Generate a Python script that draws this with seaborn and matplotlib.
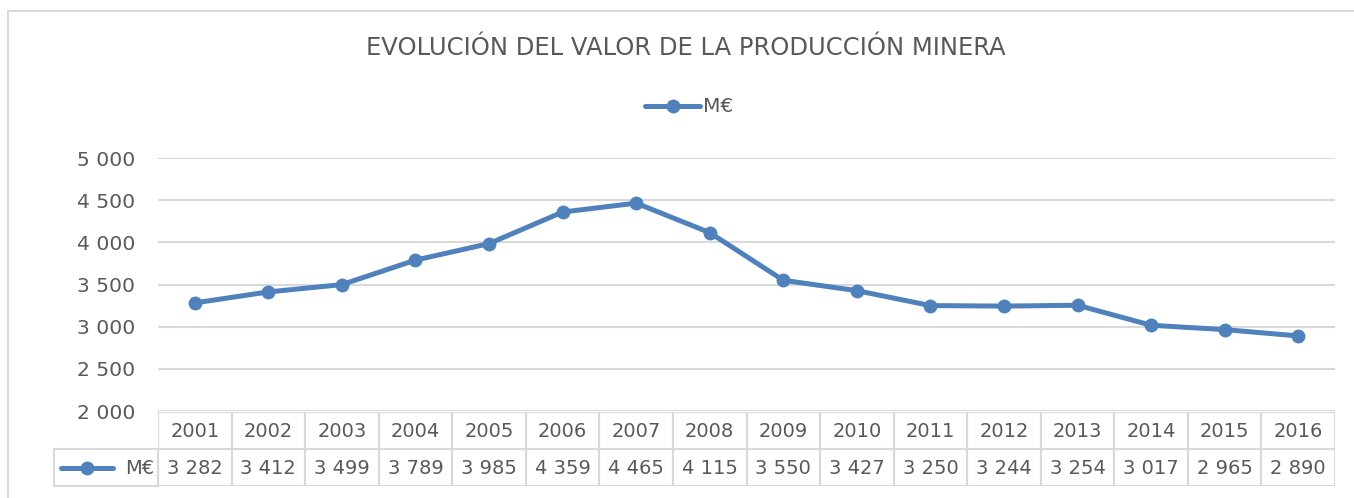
import matplotlib
matplotlib.use("Agg")
import matplotlib.pyplot as plt
from matplotlib.patches import Rectangle
from matplotlib.lines import Line2D
import seaborn as sns
import pandas as pd

years = ["2001", "2002", "2003", "2004", "2005", "2006", "2007", "2008",
         "2009", "2010", "2011", "2012", "2013", "2014", "2015", "2016"]
values = [3282, 3412, 3499, 3789, 3985, 4359, 4465, 4115,
          3550, 3427, 3250, 3244, 3254, 3017, 2965, 2890]
series_name = "M€"
title = "EVOLUCIÓN DEL VALOR DE LA PRODUCCIÓN MINERA"
yticks = [2000, 2500, 3000, 3500, 4000, 4500, 5000]

W, H = 1354, 498
BLUE = "#4f81bd"
GRID = "#d9d9d9"
TXT = "#595959"
FS = 14.6
FST = 14.0

sns.set_style("white")
plt.rcParams["font.family"] = ["DejaVu Sans"]

fig = plt.figure(figsize=(W / 100, H / 100), dpi=100)

def fx(px):
    return px / W

def fy(py):
    return 1 - py / H

# outer chart border
fig.patches.append(Rectangle((fx(8), fy(H + 5)), fx(W + 10) - fx(8), fy(11) - fy(H + 5),
                             transform=fig.transFigure, fill=False, edgecolor=GRID, lw=1.5))

L, R, T, B = 158, 1335, 158, 411
ax = fig.add_axes([fx(L), fy(B), fx(R) - fx(L), fy(T) - fy(B)])
df = pd.DataFrame({"x": list(range(len(years))), "y": values})
sns.lineplot(data=df, x="x", y="y", ax=ax, color=BLUE, lw=3.6, marker="o",
             markersize=10, markeredgewidth=0, zorder=3)
ax.set_xlim(-0.5, len(years) - 0.5)
ax.set_ylim(yticks[0], yticks[-1])
ax.set_yticks(yticks)
ax.set_yticklabels([f"{v:,}".replace(",", " ") for v in yticks], color=TXT, fontsize=FS)
ax.set_xticks([])
ax.tick_params(axis="y", length=0, pad=16.5)
ax.grid(axis="y", color=GRID, lw=1.5)
ax.set_xlabel("")
ax.set_ylabel("")
for s in ax.spines.values():
    s.set_visible(False)

# title and legend
fig.text(fx(686), fy(48), title, ha="center", va="center", fontsize=17.5, color=TXT)
fig.lines.append(Line2D([fx(645), fx(700)], [fy(106), fy(106)], transform=fig.transFigure,
                        color=BLUE, lw=3.6, solid_capstyle="round"))
fig.lines.append(Line2D([fx(673)], [fy(106)], transform=fig.transFigure, color=BLUE,
                        marker="o", markersize=10, markeredgewidth=0))
fig.text(fx(703), fy(107), series_name, ha="left", va="center", fontsize=FS, color=TXT)

# data table
tT, tM, tB = 412, 449, 486
tax = fig.add_axes([fx(L), fy(tB), fx(R) - fx(L), fy(tT) - fy(tB)])
tax.set_xlim(-0.5, len(years) - 0.5)
tax.set_ylim(0, 2)
tax.axis("off")
colw = (R - L) / len(years)
lw_units = (L - 54) / colw
for i, (yr, v) in enumerate(zip(years, values)):
    tax.add_patch(Rectangle((i - 0.5, 1), 1, 1, fill=False, edgecolor=GRID, lw=1.5))
    tax.add_patch(Rectangle((i - 0.5, 0), 1, 1, fill=False, edgecolor=GRID, lw=1.5))
    tax.text(i, 1.47, yr, ha="center", va="center", fontsize=FST, color=TXT)
    tax.text(i, 0.47, f"{v:,}".replace(",", " "), ha="center", va="center",
             fontsize=FST, color=TXT)
x0 = -0.5 - lw_units
tax.add_patch(Rectangle((x0, 0), lw_units, 1, fill=False, edgecolor=GRID, lw=1.5, clip_on=False))
tax.add_line(Line2D([x0 + 0.09, x0 + 0.8], [0.5, 0.5], color=BLUE, lw=3.6,
                    solid_capstyle="round", clip_on=False))
tax.add_line(Line2D([x0 + 0.45], [0.5], color=BLUE, marker="o", markersize=10,
                    markeredgewidth=0, clip_on=False))
tax.text(-0.55, 0.47, series_name, ha="right", va="center", fontsize=FST, color=TXT)

fig.savefig("out.png", dpi=100)
